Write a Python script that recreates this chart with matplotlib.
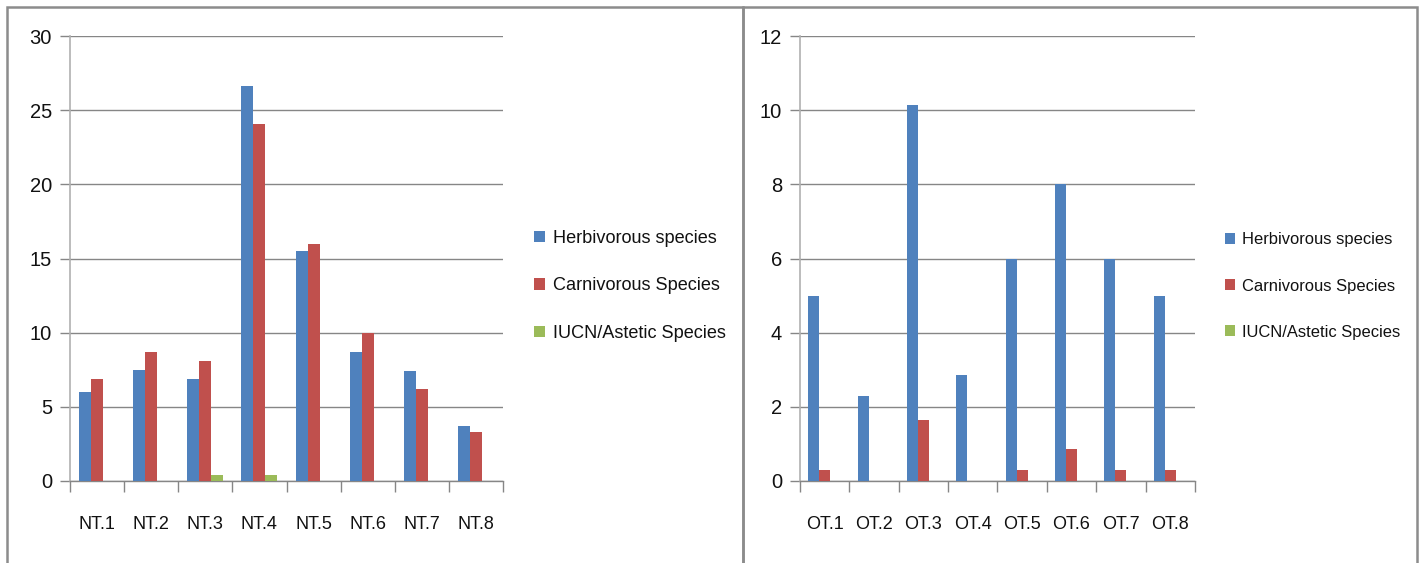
import numpy as np
import matplotlib
matplotlib.use("Agg")
import matplotlib.pyplot as plt
from matplotlib.patches import Rectangle

plt.rcParams['font.family'] = ['Liberation Sans', 'DejaVu Sans']

nt_labels = ["NT.1", "NT.2", "NT.3", "NT.4", "NT.5", "NT.6", "NT.7", "NT.8"]
nt_herb = [6.0, 7.5, 6.9, 26.6, 15.5, 8.7, 7.4, 3.7]
nt_carn = [6.9, 8.7, 8.1, 24.1, 16.0, 10.0, 6.2, 3.3]
nt_iucn = [0, 0, 0.4, 0.4, 0, 0, 0, 0]

ot_labels = ["OT.1", "OT.2", "OT.3", "OT.4", "OT.5", "OT.6", "OT.7", "OT.8"]
ot_herb = [5.0, 2.3, 10.15, 2.85, 6.0, 8.0, 6.0, 5.0]
ot_carn = [0.3, 0, 1.65, 0, 0.3, 0.85, 0.3, 0.3]
ot_iucn = [0, 0, 0, 0, 0, 0, 0, 0]

series = ["Herbivorous species", "Carnivorous Species", "IUCN/Astetic Species"]
colors = ["#4f81bd", "#c0504d", "#9bbb59"]

W, H = 1423, 563
fig = plt.figure(figsize=(W / 100, H / 100), dpi=100)

# panel frames
for x0, x1 in [(7, 743), (743, 1417)]:
    fig.patches.append(Rectangle((x0 / W, -0.05), (x1 - x0) / W, 1 - 7 / H + 0.05,
                                 transform=fig.transFigure, fill=False,
                                 edgecolor="#8c8c8c", linewidth=1.8))

grid_c = "#868686"


def panel(rect, labels, data, ymax, step, leg_x, leg_fs, leg_sp):
    ax = fig.add_axes(rect)
    n = len(labels)
    x = np.arange(n)
    w = 1 / 4.5
    for i, vals in enumerate(data):
        ax.bar(x + (i - 1) * w, vals, width=w, color=colors[i], label=series[i], zorder=3)
    ax.set_xlim(-0.5, n - 0.5)
    ax.set_ylim(0, ymax)
    ax.set_yticks(np.arange(0, ymax + step / 2, step))
    ax.set_xticks(x)
    ax.set_xticklabels(labels)
    ax.set_xticks(np.arange(n + 1) - 0.5, minor=True)
    ax.tick_params(axis="x", which="major", length=0, pad=25, labelsize=13, labelcolor="#111111")
    ax.tick_params(axis="x", which="minor", length=8, width=1, color=grid_c, direction="out")
    ax.tick_params(axis="y", length=7, width=1, color=grid_c, pad=6, labelsize=14.5, labelcolor="#111111")
    ax.grid(axis="y", color=grid_c, linewidth=1, zorder=0)
    for s in ["top", "right"]:
        ax.spines[s].set_visible(False)
    ax.spines["left"].set_color("#b0b0b0")
    ax.spines["left"].set_linewidth(1.2)
    ax.spines["bottom"].set_color(grid_c)
    ax.spines["bottom"].set_linewidth(1)
    leg = fig.legend(handles=ax.containers, labels=series, loc="center left",
                     bbox_to_anchor=(leg_x / W, 1 - 286 / H), frameon=False,
                     handlelength=0.6, handleheight=0.6, handletextpad=0.45,
                     labelspacing=leg_sp, fontsize=leg_fs, borderaxespad=0, borderpad=0)
    for t in leg.get_texts():
        t.set_color("#111111")
    return ax


panel([70 / W, 1 - 481 / H, (503 - 70) / W, (481 - 36) / H], nt_labels,
      [nt_herb, nt_carn, nt_iucn], 30, 5, 534, 13.1, 1.68)
panel([800 / W, 1 - 481 / H, (1195 - 800) / W, (481 - 36) / H], ot_labels,
      [ot_herb, ot_carn, ot_iucn], 12, 2, 1225, 11.9, 1.88)

fig.savefig("out.png", dpi=100)
